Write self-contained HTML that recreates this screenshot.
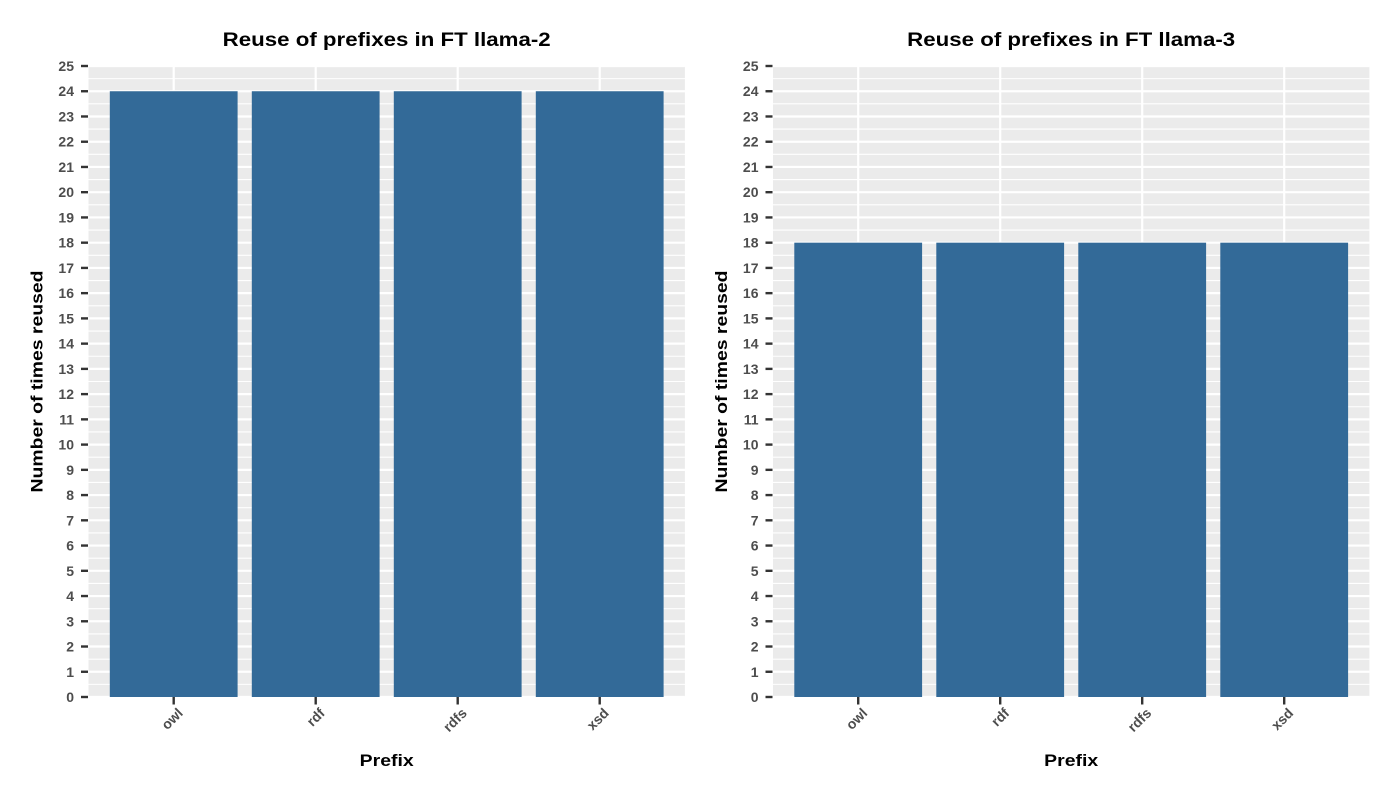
<!DOCTYPE html>
<html><head><meta charset="utf-8"><style>
body{margin:0;background:#fff;}
svg{display:block;font-family:"Liberation Sans",Arial,sans-serif;}
</style></head><body>
<svg id="c" width="1400" height="800"></svg>
<script>
const categories=["owl","rdf","rdfs","xsd"];
const valuesLlama2=[24,24,24,24];
const valuesLlama3=[18,18,18,18];
const yTicks=[0,1,2,3,4,5,6,7,8,9,10,11,12,13,14,15,16,17,18,19,20,21,22,23,24,25];
const titles=["Reuse of prefixes in FT llama-2","Reuse of prefixes in FT llama-3"];

const NS="http://www.w3.org/2000/svg";
const svg=document.getElementById("c");
function mk(tag,attrs,parent){const e=document.createElementNS(NS,tag);for(const k in attrs)e.setAttribute(k,attrs[k]);(parent||svg).appendChild(e);return e;}

function panel(left,values,title,idx){
  const top=66,bottom=697,yMax=25;
  const band=142,width=band*(categories.length+0.2);
  const right=left+width;
  const y=v=>bottom-(v/yMax)*(bottom-top);
  const x=i=>left+band*0.6+i*band;
  const g=mk("g",{});
  
  
  const bg=mk("rect",{x:left,y:top,width:width,height:bottom-top,fill:"#ebebeb"},g);
  
  
  for(let i=0;i<yTicks.length-1;i++){
    mk("line",{x1:left,x2:right,y1:y(yTicks[i]+0.5),y2:y(yTicks[i]+0.5),stroke:"#fff","stroke-width":1.1},g);
  }
  yTicks.forEach(t=>{
    const l=mk("line",{x1:left,x2:right,y1:y(t),y2:y(t),stroke:"#fff","stroke-width":2.2},g);
    
    
    mk("line",{x1:left-7.5,x2:left-0.5,y1:y(t),y2:y(t),stroke:"#333","stroke-width":2.4},g);
    const tx=mk("text",{x:left-14.5,y:y(t)+5,"text-anchor":"end","font-size":14,"font-weight":"bold",fill:"#4d4d4d"},g);
    tx.textContent=t;
    
    
  });
  categories.forEach((c,i)=>{
    mk("line",{x1:x(i),x2:x(i),y1:top,y2:bottom,stroke:"#fff","stroke-width":2.2},g);
  });
  categories.forEach((c,i)=>{
    const bw=band*0.9;
    const r=mk("rect",{x:x(i)-bw/2,y:y(values[i]),width:bw,height:bottom-y(values[i]),fill:"#336a98"},g);
    
    
    mk("line",{x1:x(i),x2:x(i),y1:bottom,y2:bottom+7.5,stroke:"#333","stroke-width":2.4},g);
    const tx=mk("text",{x:0,y:0,"text-anchor":"end","font-size":14,"font-weight":"bold",fill:"#4d4d4d",transform:`translate(${x(i)+10},${bottom+17}) rotate(-45)`},g);
    tx.textContent=c;
    
    
  });
  const t=mk("text",{x:(left+right)/2,y:46,"text-anchor":"middle","font-size":19,"font-weight":"bold",fill:"#000",textLength:328,lengthAdjust:"spacingAndGlyphs"},g);
  t.textContent=title;
  
  
  const xt=mk("text",{x:(left+right)/2,y:766,"text-anchor":"middle","font-size":17,"font-weight":"bold",fill:"#000",textLength:54,lengthAdjust:"spacingAndGlyphs"},g);
  xt.textContent="Prefix";
  
  
  const yt=mk("text",{x:0,y:0,"text-anchor":"middle","font-size":17,"font-weight":"bold",fill:"#000",textLength:222,lengthAdjust:"spacingAndGlyphs",transform:`translate(${left-46},${(top+bottom)/2+0}) rotate(-90)`},g);
  yt.textContent="Number of times reused";
  
  
}
panel(88.5,valuesLlama2,titles[0],0);
panel(773,valuesLlama3,titles[1],1);
</script>
</body></html>
